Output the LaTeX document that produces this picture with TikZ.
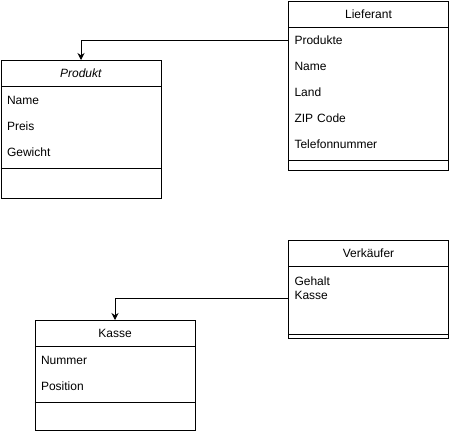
\documentclass[tikz,border=0pt]{standalone}
\usepackage{fontspec}
\setmainfont{Liberation Sans}
\usetikzlibrary{arrows.meta}
\newcommand{\umlwidth}{160pt}

\begin{document}
\begin{tikzpicture}[x=1pt,y=-1pt,line width=1pt,font=\fontsize{12}{14.4}\selectfont]
	\useasboundingbox (0,0) rectangle (449,431);
	\tikzstyle{classbox}=[draw,anchor=north west,inner sep=0pt,minimum width=\umlwidth]
	\tikzstyle{attr}=[anchor=west,inner sep=0pt,minimum width=\umlwidth,minimum height=26pt,text width=148pt,align=left]
	\tikzstyle{assoc}=[-{Stealth[length=7pt,width=7pt]}]
	% Produkt
	\node[classbox,minimum height=138pt] (produkt) at (0.5,60) {};
	\node[classbox,minimum height=26pt] (produkthead) at (0.5,60) {\textit{Produkt}};
	\node[attr] (pname) at (0.5,100) {Name};
	\node[attr] (ppreis) at (0.5,126) {Preis};
	\node[attr] (pgewicht) at (0.5,152) {Gewicht};
	\draw (0.5,168) -- (160.5,168);
	% Lieferant
	\node[classbox,minimum height=169.5pt] (lieferant) at (288,0.5) {};
	\node[classbox,minimum height=26pt] (lieferanthead) at (288,0.5) {Lieferant};
	\node[attr] (lprodukte) at (288,40) {Produkte};
	\node[attr] (lname) at (288,66) {Name};
	\node[attr] (lland) at (288,92) {Land};
	\node[attr] (lzip) at (288,118) {ZIP Code};
	\node[attr] (ltelefon) at (288,144) {Telefonnummer};
	\draw (288,160) -- (448,160);
	% Verkaeufer
	\node[classbox,minimum height=98pt] (verkaeufer) at (288,240) {};
	\node[classbox,minimum height=26pt] (verkaeuferhead) at (288,240) {Verkäufer};
	\node[classbox,draw=none,minimum height=64pt] (verkaeuferattrs) at (288,266) {};
	\node[anchor=north west,inner sep=0pt,align=left] (vtext) at (294,276) {Gehalt\\Kasse};
	\draw (288,334) -- (448,334);
	% Kasse
	\node[classbox,minimum height=110pt] (kasse) at (34.5,320) {};
	\node[classbox,minimum height=26pt] (kassehead) at (34.5,320) {Kasse};
	\node[attr] (knummer) at (34.5,360) {Nummer};
	\node[attr] (kposition) at (34.5,386) {Position};
	\draw (34.5,402.5) -- (194.5,402.5);
	% connectors
	\draw[assoc] (lprodukte.west) -| (produkt.north);
	\draw[assoc] (verkaeuferattrs.west) -| (kasse.north);
\end{tikzpicture}
\end{document}
